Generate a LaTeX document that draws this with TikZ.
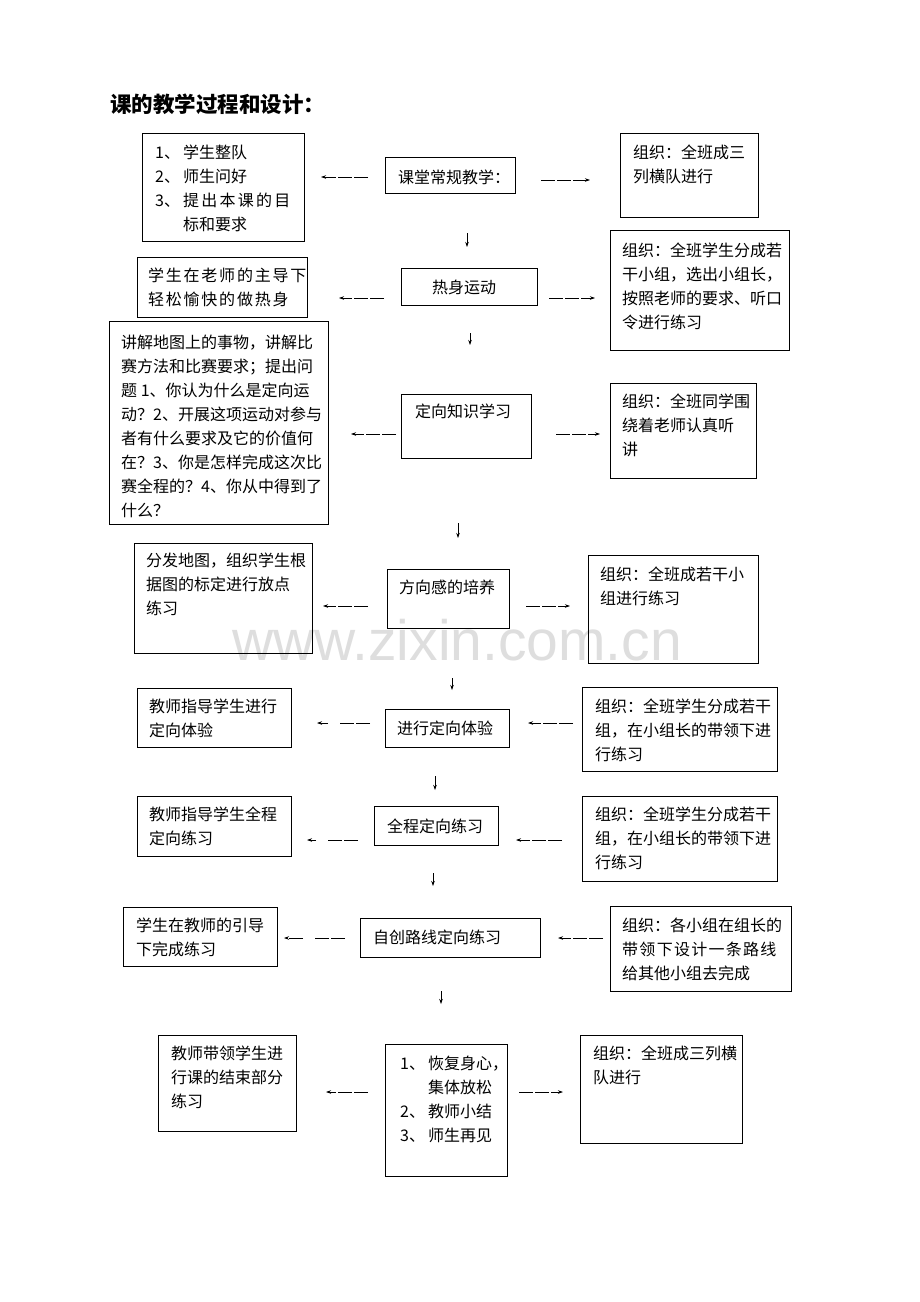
\documentclass[tikz,border=0pt]{standalone}
\usepackage{fontspec}
\newfontfamily\cjk{Noto Sans CJK SC}
\newfontfamily\wmfont{Liberation Sans}
\usetikzlibrary{arrows.meta}
\tikzset{
  box/.style={draw, line width=1pt, rectangle, inner sep=0pt, anchor=north west},
  txt/.style={anchor=north west, inner sep=0pt, align=left, font=\cjk\fontsize{16pt}{24pt}\selectfont},
  harr/.style={line width=0.7pt, dash pattern=on 14pt off 2pt, -{Stealth[length=5pt,width=3.5pt]}},
  harrgap/.style={line width=0.7pt, dash pattern=on 14pt off 2pt on 14pt off 12pt, -{Stealth[length=5pt,width=3.5pt]}},
  varr/.style={line width=0.7pt, -{Stealth[length=5pt,width=3.5pt]}},
}
\newcommand\mybox[5]{\node[box, minimum width=#4pt-#2pt, minimum height=#5pt-#3pt] (#1) at (#2,#3) {};}
\newcommand\num[1]{\makebox[28pt][l]{#1}}
\newcommand\spc[2]{{\addfontfeature{LetterSpace=#1}#2}}
\begin{document}
\begin{tikzpicture}[x=1pt,y=-1pt]
\useasboundingbox (0,0) rectangle (920,1302);
\fill[white] (0,0) rectangle (920,1302);
% watermark
\node[anchor=base west, inner sep=0pt, text=black!13, font=\wmfont\fontsize{57pt}{57pt}\selectfont] (wm) at (232,660) {www.zixin.com.cn};
% title
\node[anchor=north west, inner sep=0pt, font=\cjk\bfseries\fontsize{21.5pt}{26pt}\selectfont] (title) at (110,93.5) {课的教学过程和设计：};
% boxes
\mybox{L1}{142}{133}{304}{241}
\mybox{C1}{385}{157}{515}{193}
\mybox{R1}{620}{133}{758}{217}
\mybox{L2}{137}{257}{307}{317}
\mybox{C2}{401}{268}{537}{305}
\mybox{R2}{610}{230}{789}{350}
\mybox{L3}{109}{321}{328}{524}
\mybox{C3}{401}{394}{531}{458}
\mybox{R3}{610}{383}{756}{478}
\mybox{L4}{134}{543}{312}{653}
\mybox{C4}{387}{569}{509}{628}
\mybox{R4}{588}{555}{758}{663}
\mybox{L5}{137}{688}{291}{747}
\mybox{C5}{385}{709}{509}{747}
\mybox{R5}{582}{687}{777}{771}
\mybox{L6}{137}{796}{291}{856}
\mybox{C6}{374}{806}{498}{845}
\mybox{R6}{582}{796}{777}{881}
\mybox{L7}{123}{907}{277}{966}
\mybox{C7}{360}{918}{540}{957}
\mybox{R7}{610}{906}{791}{991}
\mybox{L8}{158}{1035}{296}{1131}
\mybox{C8}{385}{1044}{507}{1176}
\mybox{R8}{580}{1035}{742}{1143}
% texts
\node[txt] (L1t) at (155,145) {\num{1、}学生整队\\\num{2、}师生问好\\\num{3、}\spc{14}{提出本课的目}\\\hspace*{28pt}标和要求};
\node[txt] (C1t) at (398,170) {课堂常规教学：};
\node[txt] (R1t) at (633,145) {组织：全班成三\\列横队进行};
\node[txt] (L2t) at (148,268) {\spc{11}{学生在老师的主导下}\\\spc{11}{轻松愉快的做热身}};
\node[txt] (C2t) at (432,280) {热身运动};
\node[txt] (R2t) at (622,243) {组织：全班学生分成若\\干小组，选出小组长，\\按照老师的要求、听口\\令进行练习};
\node[txt] (L3t) at (121,335) {讲解地图上的事物，讲解比\\赛方法和比赛要求；提出问\\题 1、你认为什么是定向运\\动？2、开展这项运动对参与\\者有什么要求及它的价值何\\在？3、你是怎样完成这次比\\赛全程的？4、你从中得到了\\什么？};
\node[txt] (C3t) at (415,404) {定向知识学习};
\node[txt] (R3t) at (622,394) {组织：全班同学围\\绕着老师认真听\\讲};
\node[txt] (L4t) at (146,553) {分发地图，组织学生根\\据图的标定进行放点\\练习};
\node[txt] (C4t) at (399,580) {方向感的培养};
\node[txt] (R4t) at (600,567) {组织：全班成若干小\\组进行练习};
\node[txt] (L5t) at (149,699) {教师指导学生进行\\定向体验};
\node[txt] (C5t) at (397,721) {进行定向体验};
\node[txt] (R5t) at (595,699) {组织：全班学生分成若干\\组，在小组长的带领下进\\行练习};
\node[txt] (L6t) at (149,807) {教师指导学生全程\\定向练习};
\node[txt] (C6t) at (387,819) {全程定向练习};
\node[txt] (R6t) at (595,807) {组织：全班学生分成若干\\组，在小组长的带领下进\\行练习};
\node[txt] (L7t) at (136,918) {学生在教师的引导\\下完成练习};
\node[txt] (C7t) at (373,930) {自创路线定向练习};
\node[txt] (R7t) at (622,918) {组织：各小组在组长的\\\spc{8}{带领下设计一条路线}\\给其他小组去完成};
\node[txt] (L8t) at (171,1046) {教师带领学生进\\行课的结束部分\\练习};
\node[txt] (C8t) at (400,1056) {\num{1、}恢复身心，\\\hspace*{28pt}集体放松\\\num{2、}教师小结\\\num{3、}师生再见};
\node[txt] (R8t) at (593,1046) {组织：全班成三列横\\队进行};
% horizontal arrows
\draw[harr, shorten <=17pt, shorten >=16pt] (C1.west |- 0,177) -- (L1.east |- 0,177);
\draw[harr, shorten <=25pt, shorten >=30pt] (C1.east |- 0,180) -- (R1.west |- 0,180);
\draw[harr, shorten <=17pt, shorten >=31pt] (C2.west |- 0,298) -- (L2.east |- 0,298);
\draw[harr, shorten <=11pt, shorten >=15pt] (C2.east |- 0,298) -- (R2.west |- 0,298);
\draw[harr, shorten <=5pt, shorten >=22pt] (C3.west |- 0,434) -- (L3.east |- 0,434);
\draw[harr, shorten <=24pt, shorten >=10pt] (C3.east |- 0,434) -- (R3.west |- 0,434);
\draw[harr, shorten <=19pt, shorten >=10pt] (C4.west |- 0,606) -- (L4.east |- 0,606);
\draw[harr, shorten <=16pt, shorten >=18pt] (C4.east |- 0,606) -- (R4.west |- 0,606);
\draw[harrgap, shorten <=15pt, shorten >=25pt] (C5.west |- 0,723) -- (L5.east |- 0,723);
\draw[harr, shorten <=9pt, shorten >=18pt] (R5.west |- 0,723) -- (C5.east |- 0,723);
\draw[harrgap, shorten <=16pt, shorten >=15pt] (C6.west |- 0,840) -- (L6.east |- 0,840);
\draw[harr, shorten <=20pt, shorten >=17pt] (R6.west |- 0,840) -- (C6.east |- 0,840);
\draw[harrgap, shorten <=15pt, shorten >=6pt] (C7.west |- 0,938) -- (L7.east |- 0,938);
\draw[harr, shorten <=7pt, shorten >=17pt] (R7.west |- 0,938) -- (C7.east |- 0,938);
\draw[harr, shorten <=17pt, shorten >=29pt] (C8.west |- 0,1092) -- (L8.east |- 0,1092);
\draw[harr, shorten <=11pt, shorten >=17pt] (C8.east |- 0,1092) -- (R8.west |- 0,1092);
% vertical arrows
\draw[varr, shorten <=39pt, shorten >=21pt] (C1.south -| 467,0) -- (C2.north -| 467,0);
\draw[varr, shorten <=27pt, shorten >=49pt] (C2.south -| 470,0) -- (C3.north -| 470,0);
\draw[varr, shorten <=64pt, shorten >=31pt] (C3.south -| 458,0) -- (C4.north -| 458,0);
\draw[varr, shorten <=49pt, shorten >=19pt] (C4.south -| 452,0) -- (C5.north -| 452,0);
\draw[varr, shorten <=28pt, shorten >=16pt] (C5.south -| 435,0) -- (C6.north -| 435,0);
\draw[varr, shorten <=27pt, shorten >=32pt] (C6.south -| 433,0) -- (C7.north -| 433,0);
\draw[varr, shorten <=33pt, shorten >=40pt] (C7.south -| 441,0) -- (C8.north -| 441,0);
\end{tikzpicture}
\end{document}
